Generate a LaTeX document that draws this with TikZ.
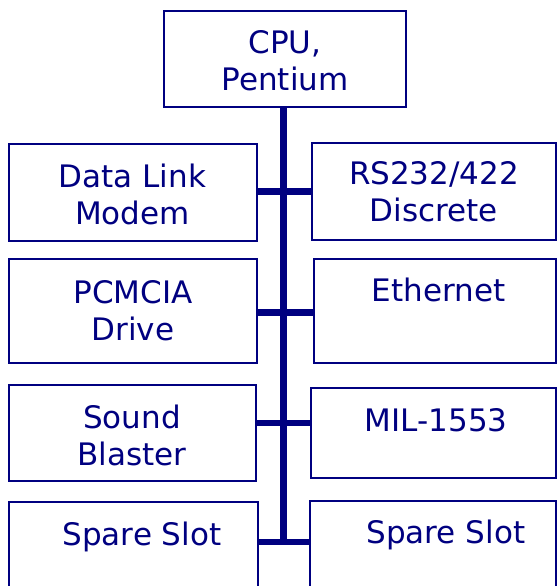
\documentclass[tikz,border=0pt]{standalone}
\usepackage{fontspec}
\setmainfont{DejaVu Sans}
\definecolor{navy}{RGB}{0,0,128}

\begin{document}
\begin{tikzpicture}[x=1pt,y=-1pt,
    slot/.style={draw=navy,line width=2pt,inner sep=0pt},
    txt/.style={text=navy,font=\fontsize{31}{37}\selectfont,align=center,anchor=base,inner sep=0pt},
    bus/.style={draw=navy,line width=6.7pt}]
      \clip (0,0) rectangle (557,586);

      \node[slot,minimum width=242pt,minimum height=96pt](cpu) at (285,59) {};
      \node[slot,minimum width=248pt,minimum height=96.5pt](dlm) at (132.5,192.25) {};
      \node[slot,minimum width=244.5pt,minimum height=97pt](rs) at (433.75,191) {};
      \node[slot,minimum width=247.5pt,minimum height=103.5pt](pcm) at (132.75,310.75) {};
      \node[slot,minimum width=242.5pt,minimum height=103.5pt](eth) at (434.75,310.75) {};
      \node[slot,minimum width=247pt,minimum height=95.5pt](snd) at (132.5,432.75) {};
      \node[slot,minimum width=245.5pt,minimum height=90pt](mil) at (433.25,433) {};
      \node[slot,minimum width=249pt,minimum height=118.5pt](spl) at (133.5,560.75) {};
      \node[slot,minimum width=246pt,minimum height=119.5pt](spr) at (433,560.25) {};

      % base of a two-line text is its last line
      \node[txt](cpuT) at (285,90.7) {CPU,\\Pentium};
      \node[txt](dlmT) at (132.5,224) {Data Link\\Modem};
      \node[txt](rsT) at (434,221.7) {RS232/422\\Discrete};
      \node[txt](pcmT) at (133,340) {PCMCIA\\Drive};
      \node[txt](ethT) at (438.5,301.7) {Ethernet};
      \node[txt](sndT) at (132,465) {Sound\\Blaster};
      \node[txt](milT) at (436.3,431) {MIL-1553};
      \node[txt](splT) at (142,545) {Spare Slot};
      \node[txt](sprT) at (445.8,543.3) {Spare Slot};

      \coordinate (b1) at (283.3,191.7);
      \coordinate (b2) at (283.3,312.7);
      \coordinate (b3) at (283.3,423);
      \coordinate (b4) at (283.3,542);

      \draw[bus] (cpu.south -| b1) -- (b4);
      \draw[bus] (b1 -| dlm.east) -- (b1 -| rs.west);
      \draw[bus] (b2 -| pcm.east) -- (b2 -| eth.west);
      \draw[bus] (b3 -| snd.east) -- (b3 -| mil.west);
      \draw[bus] (b4 -| spl.east) -- (b4 -| spr.west);
    \end{tikzpicture}
\end{document}
